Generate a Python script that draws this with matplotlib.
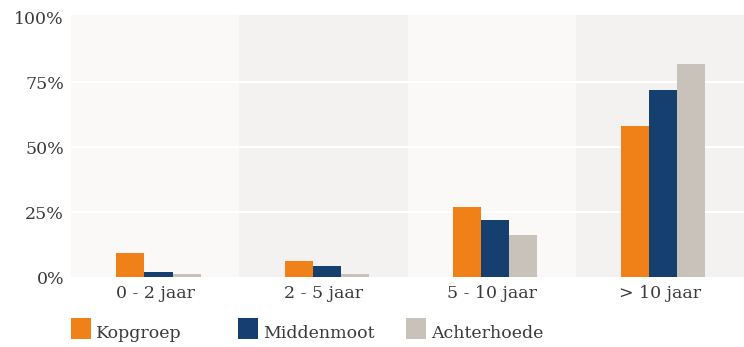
import matplotlib
matplotlib.use("Agg")
import matplotlib.pyplot as plt
from matplotlib.patches import Rectangle
import numpy as np

# share of teams per tenure class
categories = ["0 - 2 jaar", "2 - 5 jaar", "5 - 10 jaar", "> 10 jaar"]
kopgroep = [9.2, 6.0, 27.0, 58.0]
middenmoot = [2.0, 4.2, 22.0, 72.0]
achterhoede = [1.2, 1.2, 16.0, 82.0]
series_names = ["Kopgroep", "Middenmoot", "Achterhoede"]
yticks = [0, 25, 50, 75, 100]

colors = ["#f08119", "#143f6e", "#c9c2bb"]
band_colors = ["#faf9f7", "#f3f2f0"]
text_color = "#3a3a3a"
font = "DejaVu Serif"

W, H = 744, 347
fig = plt.figure(figsize=(W / 100, H / 100), dpi=100)
ax = fig.add_axes([71 / W, 1 - 277 / H, 1 - 71 / W, 262 / H])
ax.set_facecolor("white")

x = np.arange(len(categories))
# alternating background bands, one per category
for i in x:
    ax.axvspan(i - 0.5, i + 0.5, color=band_colors[i % 2], zorder=0, lw=0)

bw = 1 / 6
for k, vals in enumerate([kopgroep, middenmoot, achterhoede]):
    ax.bar(x + (k - 1) * bw + 0.02, vals, width=bw, color=colors[k], zorder=3)

for y in yticks[1:-1]:
    ax.axhline(y, color="white", lw=1.5, zorder=1)

ax.set_xlim(-0.5, len(categories) - 0.5)
ax.set_ylim(0, 100.8)
ax.set_yticks(yticks)
ax.set_yticklabels([f"{v}%" for v in yticks])
ax.set_xticks(x)
ax.set_xticklabels(categories)
ax.tick_params(length=0, labelsize=12.5, colors=text_color, pad=6)
ax.tick_params(axis="y", pad=5)
for lab in ax.get_xticklabels() + ax.get_yticklabels():
    lab.set_fontfamily(font)
for s in ax.spines.values():
    s.set_visible(False)

# legend row below the chart
leg_x = [71, 238, 406]
for px, name, c in zip(leg_x, series_names, colors):
    fig.add_artist(Rectangle((px / W, 1 - 339 / H), 20 / W, 21 / H,
                             transform=fig.transFigure, color=c, lw=0))
    fig.text((px + 25) / W, 1 - 338 / H, name, fontsize=12.5, color=text_color,
             family=font, va="baseline")

fig.savefig("out.png", dpi=100)
